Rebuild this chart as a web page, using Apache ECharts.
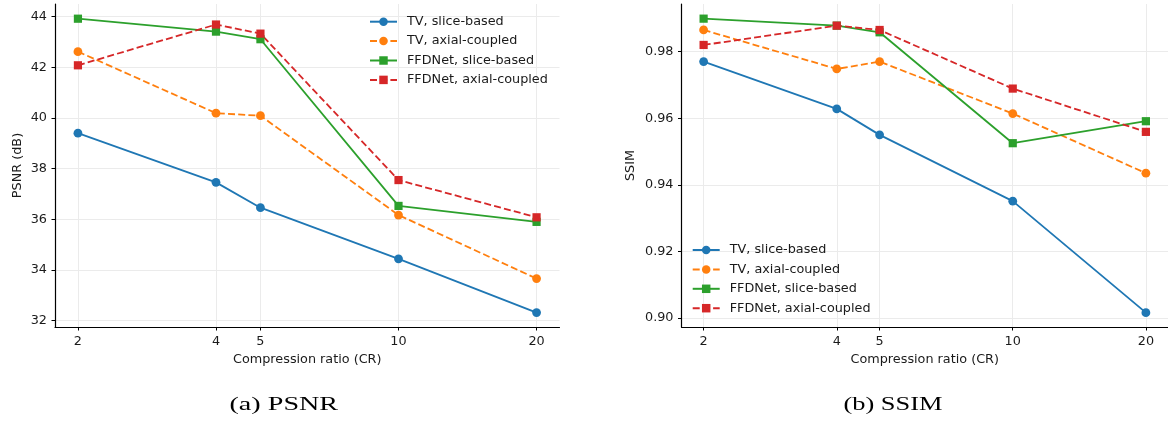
<!DOCTYPE html>
<html><head><meta charset="utf-8">
<script src="https://cdn.jsdelivr.net/npm/echarts@6/dist/echarts.min.js"></script>
<style>html,body{margin:0;padding:0;background:#fff}#c{width:1168px;height:423px}</style>
</head><body><div id="c"></div>
<script>
// ---- data ----
const compressionRatios = [2, 4, 5, 10, 20];
const seriesNames = ['TV, slice-based', 'TV, axial-coupled', 'FFDNet, slice-based', 'FFDNet, axial-coupled'];
const psnrTVSlice   = [39.40, 37.46, 36.46, 34.44, 32.32];
const psnrTVAxial   = [42.62, 40.19, 40.09, 36.17, 33.66];
const psnrFFDSlice  = [43.92, 43.41, 43.11, 36.53, 35.90];
const psnrFFDAxial  = [42.08, 43.69, 43.33, 37.55, 36.08];
const ssimTVSlice   = [0.9770, 0.9628, 0.9550, 0.9351, 0.9016];
const ssimTVAxial   = [0.9865, 0.9748, 0.9770, 0.9614, 0.9435];
const ssimFFDSlice  = [0.9899, 0.9878, 0.9858, 0.9525, 0.9591];
const ssimFFDAxial  = [0.9820, 0.9878, 0.9865, 0.9689, 0.9559];
const xTickValues = [2, 4, 5, 10, 20];
const psnrTickValues = [32, 34, 36, 38, 40, 42, 44];
const ssimTickValues = [0.90, 0.92, 0.94, 0.96, 0.98];
const xAxisTitle = 'Compression ratio (CR)';
const psnrAxisTitle = 'PSNR (dB)';
const ssimAxisTitle = 'SSIM';
const captions = ['(a) PSNR', '(b) SSIM'];

// ---- styles ----
const colors = ['#1f77b4', '#ff7f0e', '#2ca02c', '#d62728'];
const symbols = ['circle', 'circle', 'rect', 'rect'];
const symbolSizes = [8.8, 8.8, 8.2, 8.2];
const dash = [7, 3.2];
const lineTypes = ['solid', dash, 'solid', dash];
const FONT = 'DejaVu Sans';
const TXT = '#1a1a1a';

const psnrSets = [psnrTVSlice, psnrTVAxial, psnrFFDSlice, psnrFFDAxial];
const ssimSets = [ssimTVSlice, ssimTVAxial, ssimFFDSlice, ssimFFDAxial];

const xMin = 2 / Math.pow(10, 0.05), xMax = 20 * Math.pow(10, 0.05);

function xAxisCfg(gridIndex) {
  return {
    type: 'log', logBase: 10, gridIndex, min: xMin, max: xMax,
    name: xAxisTitle, nameLocation: 'middle', nameGap: 26,
    nameTextStyle: { fontFamily: FONT, fontSize: 12.8, color: TXT },
    axisLine: { show: true, onZero: false, lineStyle: { color: '#000', width: 1.2 } },
    axisTick: { show: true, customValues: xTickValues, length: 3.5, lineStyle: { color: '#000', width: 1 } },
    axisLabel: { customValues: xTickValues, margin: 8, fontFamily: FONT, fontSize: 12.8, color: TXT,
      formatter: v => String(Math.round(v)) },
    splitLine: { show: true, lineStyle: { color: '#ebebeb', width: 1 } },
    minorTick: { show: false }, minorSplitLine: { show: false }
  };
}
function yAxisCfg(gridIndex, min, max, ticks, name, gap, fmt) {
  return {
    type: 'value', gridIndex, min, max,
    name, nameLocation: 'middle', nameGap: gap, nameRotate: 90,
    nameTextStyle: { fontFamily: FONT, fontSize: 12.8, color: TXT },
    axisLine: { show: true, onZero: false, lineStyle: { color: '#000', width: 1.2 } },
    axisTick: { show: true, customValues: ticks, length: 3.5, lineStyle: { color: '#000', width: 1 } },
    axisLabel: { customValues: ticks, margin: 8, fontFamily: FONT, fontSize: 12.8, color: TXT, formatter: fmt },
    splitLine: { show: true, lineStyle: { color: '#ebebeb', width: 1 } }
  };
}

const series = [];
[psnrSets, ssimSets].forEach((sets, g) => {
  sets.forEach((vals, i) => {
    series.push({
      type: 'line', name: seriesNames[i], xAxisIndex: g, yAxisIndex: g,
      data: compressionRatios.map((x, k) => [x, vals[k]]),
      symbol: symbols[i], symbolSize: symbolSizes[i], showSymbol: true,
      lineStyle: { color: colors[i], width: 1.8, type: lineTypes[i] },
      itemStyle: { color: colors[i] },
      emphasis: { disabled: true }
    });
  });
});

function legendCfg(left, top) {
  return {
    orient: 'vertical', left, top, padding: 0,
    itemWidth: 27, itemHeight: 10.6, itemGap: 5.6,
    data: seriesNames,
    textStyle: { fontFamily: FONT, fontSize: 12.8, color: TXT, lineHeight: 13.8, padding: [0, 0, 0, 5] }
  };
}

const chart = echarts.init(document.getElementById('c'), null, { renderer: 'canvas' });
chart.setOption({
  animation: false,
  backgroundColor: '#fff',
  grid: [
    { left: 55, top: 4, width: 504.5, height: 323, containLabel: false },
    { left: 681.5, top: 4, width: 492.8, height: 323, containLabel: false }
  ],
  xAxis: [xAxisCfg(0), xAxisCfg(1)],
  yAxis: [
    yAxisCfg(0, 31.75, 44.5, psnrTickValues, psnrAxisTitle, 31, v => String(Math.round(v))),
    yAxisCfg(1, 0.8973, 0.9943, ssimTickValues, ssimAxisTitle, 44, v => v.toFixed(2))
  ],
  legend: [legendCfg(369, 14.8), legendCfg(691.7, 243.1)],
  series,
  graphic: [
    { type: 'text', x: 283.8, y: 405.5, scaleX: 1.48,
      style: { text: captions[0], align: 'center', verticalAlign: 'middle', font: '19px "Liberation Serif"', fill: '#000' } },
    { type: 'text', x: 893, y: 405.5, scaleX: 1.39,
      style: { text: captions[1], align: 'center', verticalAlign: 'middle', font: '19px "Liberation Serif"', fill: '#000' } }
  ]
});
</script></body></html>
